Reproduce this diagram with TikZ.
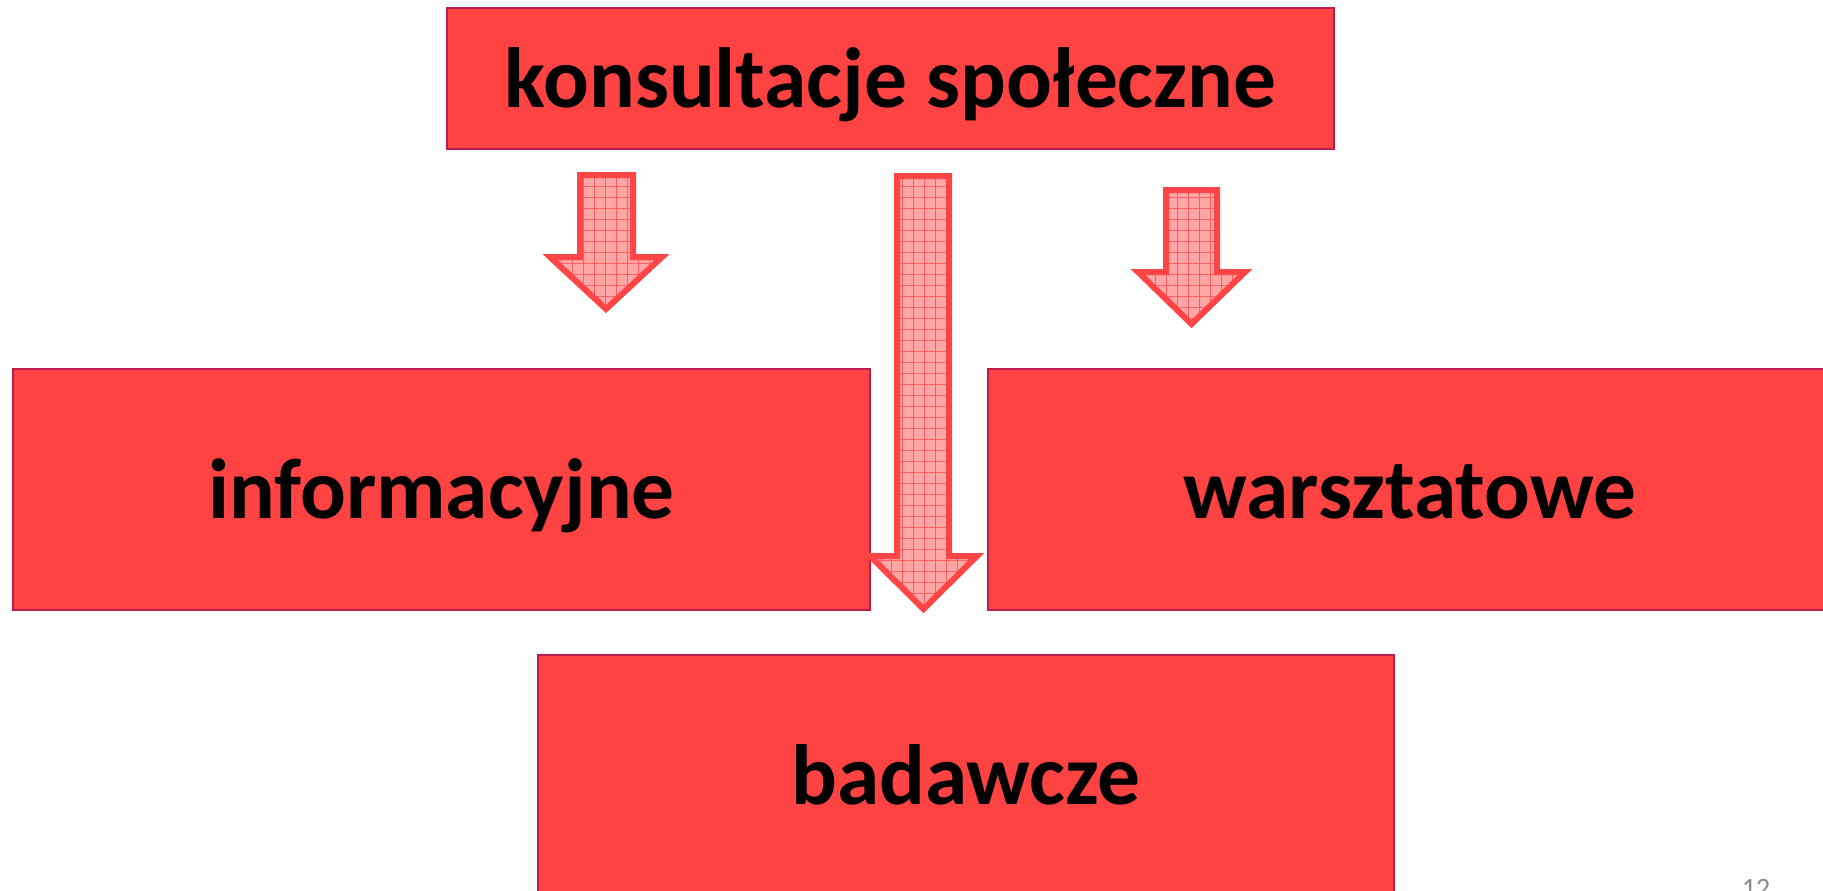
\documentclass[tikz,border=0pt]{standalone}
\usepackage{fontspec}
\setmainfont{Carlito}
\usetikzlibrary{patterns.meta}

\definecolor{boxred}{HTML}{FF4343}
\definecolor{boxborder}{HTML}{B81E4E}
\definecolor{arrowred}{HTML}{FF4545}
\definecolor{arrowpink}{HTML}{FFA6A6}
\definecolor{gridred}{HTML}{FF5E5E}

\tikzset{
  box/.style={draw=boxborder, line width=1pt, fill=boxred, inner sep=0pt,
    text height=38pt, text depth=9pt,
    font=\fontsize{42.7}{51}\selectfont\bfseries},
  blockarrow/.style={draw=arrowred, line width=3pt, line join=miter,
    preaction={fill=arrowpink},
    pattern={Hatch[distance=5.5pt, line width=0.4pt]}, pattern color=gridred}
}

\begin{document}
\begin{tikzpicture}[x=0.5pt,y=-0.5pt]
\useasboundingbox (0,0) rectangle (1823,890);

\node[box, minimum width=443.5pt, minimum height=70.5pt] (konsultacje) at (890.5,78.5) {konsultacje społeczne};
\node[box, minimum width=428.5pt, minimum height=120.5pt] (informacyjne) at (441.5,489.5) {informacyjne};
\node[box, minimum width=422pt, minimum height=120.5pt] (warsztatowe) at (1410,489.5) {warsztatowe};
\node[box, minimum width=428pt, minimum height=120.5pt] (badawcze) at (966,775) {badawcze};

\draw[blockarrow] (580,175) -- (633,175) -- (633,257) -- (662,257) -- (606,309)
  -- (550,257) -- (580,257) -- cycle;
\draw[blockarrow] (897,176) -- (949,176) -- (949,556) -- (977,556) -- (923.5,609)
  -- (870,556) -- (897,556) -- cycle;
\draw[blockarrow] (1166,190) -- (1217,190) -- (1217,272) -- (1245,272) -- (1191.5,324)
  -- (1138,272) -- (1166,272) -- cycle;

\node[text=black!45, anchor=base, font=\fontsize{14}{17}\selectfont] (pagenum) at (1756,897) {12};
\end{tikzpicture}
\end{document}
